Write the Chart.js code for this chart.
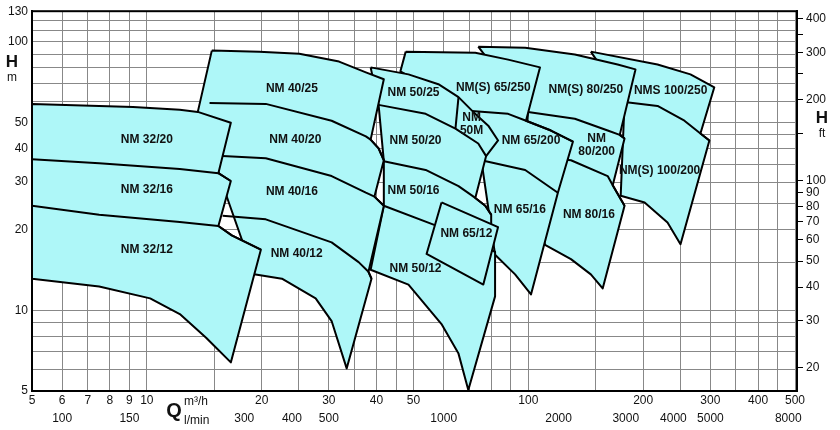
<!DOCTYPE html>
<html>
<head>
<meta charset="utf-8">
<script src="https://cdn.jsdelivr.net/npm/chart.js@4/dist/chart.umd.min.js"></script>
<style>
  html, body { margin: 0; padding: 0; background: #fff; }
  #wrap { width: 840px; height: 430px; position: relative; }
</style>
</head>
<body>
<div id="wrap"><canvas id="pumpChart"></canvas></div>
<script>
// ── Data: Q in m3/h, H in m ────────────────────────────────────────────────
var gridQ   = [5,6,7,8,9,10,15,20,25,30,35,40,45,50,60,70,80,90,100,150,200,250,300,350,400,450,500];
var labelQ  = [5,6,7,8,9,10,20,30,40,50,100,200,300,400,500];
var gridH   = [5,6,7,8,9,10,15,20,25,30,35,40,45,50,60,70,80,90,100,110,120,130];
var labelH  = [5,10,20,30,40,50,100,130];
var ticksFt = [20,30,40,50,60,70,80,90,100,150,200,250,300,350,400];
var labelFt = [20,30,40,50,60,70,80,90,100,200,300,400];
var ticksLmin = [100,150,300,400,500,1000,2000,3000,4000,5000,8000];

// NM 32
var nm32_20  = [[5,58.7],[7.5,57.7],[9.2,57.2],[12.2,55.8],[13.6,54.8],[16.6,49.9]];
var nm32_16  = [[5,36.5],[7.5,35.3],[12.2,33.6],[15.4,32.4],[16.6,30.3]];
var nm32_12  = [[5,24.5],[7.5,22.7],[12.2,21.3],[15.4,20.6],[16.7,19.0],[19.9,16.8]];
var nm32_min = [[5,13.1],[7.5,12.25],[10.2,11.07],[12.2,9.67],[14.3,7.89],[16.6,6.39]];
// NM 40
var nm40_25  = [[14.8,92.7],[19.7,91.9],[25.1,90.3],[31.9,84.4],[37.5,76.9],[41.8,72.5]];
var nm40_20  = [[14.6,59.2],[20.5,58.7],[30.5,50.8],[37.5,44.4],[38.6,43.2],[40.5,40.1],[41.8,36.2]];
var nm40_16  = [[15.8,37.5],[20.5,36.8],[30.5,31.6],[37.5,27.4],[39.5,26.5],[41.8,24.5]];
var nm40_12  = [[15.8,22.5],[20.5,21.8],[30.5,17.9],[35.9,15.1],[38.1,13.9],[38.8,13.1]];
var nm40_min = [[19.1,13.6],[22.6,13.1],[27.7,11.07],[30.5,9.11],[33.4,6.07]];
// NM 50
var nm50_25  = [[38.6,80.3],[48.5,75.6],[58.1,69.5],[65.6,62.2],[71.7,54.8],[78.5,48.7],[83.3,42.9]];
var nm50_20  = [[40.5,58.2],[53.8,53.9],[64.4,47.5],[73.9,41.8],[77.5,37.5]];
var nm50_16  = [[41.8,35.9],[53.8,33.3],[65.6,29.0],[72.6,26.2],[77.1,24.5],[79.9,22.7]];
var nm50_12  = [[41.8,24.5],[57.1,20.7],[69.6,18.5],[79.9,16.8],[81.8,16.5]];
var nm50_min = [[38.6,14.15],[48.5,12.46],[59.2,8.88],[65.6,6.89],[69.6,5.04]];
// NM 65
var nm65_250 = [[47.7,91.9],[72.6,91.1],[88.5,85.8],[107.3,80.3]];
var nm65_200 = [[69.6,55.3],[88.5,53.9],[98.6,50.8],[114.6,46.7],[130.9,42.5]];
var nm65_16  = [[75.3,36.2],[98.1,33.3],[119.5,27.4]];
var nm65_min = [[81.8,16.1],[92.3,13.6],[101.6,11.45]];
var nm65_12  = [[59.2,25.2],[83.3,20.4]];
var nm65_12min = [[54.1,16.2],[76.2,12.46]];
// NM 80
var nm80_250 = [[73.9,95.9],[98.1,95.1],[132.4,89.6],[171.4,82.3],[190.9,78.9]];
var nm80_200 = [[99.8,54.8],[132.4,51.7],[161.4,46.7],[173.6,45.0],[178.7,43.6]];
var nm80_16  = [[98.1,37.8],[129.3,36.2],[161.4,31.6],[166.4,29.2],[178.7,24.5]];
var nm80_min = [[110.6,17.5],[129.3,15.5],[145.8,13.6],[156.6,12.05]];
// NM 100
var nm100_250 = [[145.8,91.9],[218.1,82.3],[266.0,75.6],[307.2,67.7]];
var nm100_200 = [[178.7,59.7],[218.1,57.7],[256.5,50.8],[282.5,45.5],[298.2,42.9]];
var nm100_min = [[174.6,26.7],[201.7,25.2],[231.6,21.2],[250.5,17.6]];

// Labels: text, Q, H
var labelNames = ['NM 32/20','NM 32/16','NM 32/12','NM 40/25','NM 40/20','NM 40/16','NM 40/12',
  'NM 50/25','NM 50/20','NM 50/16','NM 50/12','NM(S) 65/250','NM|50M','NM 65/200','NM 65/16','NM 65/12',
  'NM(S) 80/250','NMS 100/250','NM|80/200','NM(S) 100/200','NM 80/16'];
var labelPosQ = [10,10,10,24,24.5,24,24.7, 50,50.6,50,50.6,80.9,71,101.6,95,68.8, 141.5,236,151,220.8,144.1];
var labelPosH = [43.3,28.1,16.8,66.6,43.3,27.6,16.2, 64.4,42.9,27.9,14.27,67.7,49.5,42.9,23.7,19.2, 66.1,65.5,41.1,33.0,22.7];

// ── Families (drawn right to left so left ones sit on top) ─────────────────
var families = [
  { curves: [nm100_250, nm100_200], cuts: [282.5], bottom: nm100_min, left: [[178.7,59.7]] },
  { curves: [nm80_250, nm80_200, nm80_16], cuts: [173.6,166.4], bottom: nm80_min, left: [[98.1,37.8],[99.8,54.8]] },
  { curves: [nm65_250, nm65_200, nm65_16], cuts: [98.6,119.5], bottom: nm65_min, left: [[75.3,36.2],[69.6,55.3],[46.2,77.6]] },
  { curves: [nm50_25, nm50_20, nm50_16, nm50_12], cuts: [77.5,72.6,79.9], bottom: nm50_min,
    right: [[81.8,11.26]], left: [[41.8,24.5],[41.8,35.9],[40.5,58.2]],
    extra: [[[65.6,62.2],[64.4,47.5]]] },
  { curves: [nm65_12], cuts: [], bottom: nm65_12min },
  { curves: [nm40_25, nm40_20, nm40_16, nm40_12], cuts: [38.6,39.5,38.1], bottom: nm40_min, left: [[16.4,25.2],[13.6,54.8]] },
  { curves: [nm32_20, nm32_16, nm32_12], cuts: [15.4,15.4], bottom: nm32_min }
];

function toXY(p) { return { x: p[0], y: p[1] }; }

function outline(f) {
  var pts = f.curves[0].slice();
  for (var i = 1; i < f.curves.length; i++) {
    var cut = f.cuts[i - 1];
    f.curves[i].forEach(function(p) { if (p[0] >= cut) pts.push(p); });
  }
  pts = pts.concat(f.right || []);
  pts = pts.concat(f.bottom.slice().reverse());
  pts = pts.concat(f.left || []);
  pts.push(f.curves[0][0]);
  return pts;
}

var FILL = '#aef7f8';
var datasets = [];
var order = 1000;
families.forEach(function(f) {
  datasets.push({
    data: outline(f).map(toXY),
    showLine: true, fill: 'shape', backgroundColor: FILL,
    borderColor: '#000', borderWidth: 2, borderJoinStyle: 'round',
    pointRadius: 0, tension: 0,
    order: order--
  });
  f.curves.slice(1).forEach(function(c) {
    datasets.push({
      data: c.map(toXY), showLine: true, fill: false,
      borderColor: '#000', borderWidth: 2, borderJoinStyle: 'round',
      pointRadius: 0, tension: 0,
      order: order--
    });
  });
  (f.extra || []).forEach(function(c) {
    datasets.push({
      data: c.map(toXY), showLine: true, fill: false,
      borderColor: '#000', borderWidth: 2, pointRadius: 0, order: order--
    });
  });
});

var FONT = '"Liberation Sans", Arial, Helvetica, sans-serif';

var textPlugin = {
  id: 'pumpText',
  afterDatasetsDraw: function(chart) {
    var c = chart.ctx, xs = chart.scales.x, ys = chart.scales.y;
    c.save();
    c.fillStyle = '#111';
    c.textAlign = 'center';
    c.textBaseline = 'middle';
    c.font = 'bold 12px ' + FONT;
    labelNames.forEach(function(name, i) {
      var px = xs.getPixelForValue(labelPosQ[i]);
      var py = ys.getPixelForValue(labelPosH[i]);
      var lines = name.split('|');
      lines.forEach(function(l, k) {
        c.fillText(l, px, py + (k - (lines.length - 1) / 2) * 13);
      });
    });
    c.restore();
  },
  afterDraw: function(chart) {
    var c = chart.ctx, a = chart.chartArea;
    c.save();
    c.strokeStyle = '#000';
    c.lineWidth = 2;
    c.strokeRect(a.left, a.top, a.right - a.left, a.bottom - a.top);
    c.fillStyle = '#111';
    c.textBaseline = 'middle';
    c.textAlign = 'center';
    c.font = 'bold 17px ' + FONT;
    c.fillText('H', 12, 62);
    c.fillText('H', 822, 118);
    c.font = '12px ' + FONT;
    c.fillText('m', 12, 78);
    c.fillText('ft', 822, 134);
    c.font = 'bold 20px ' + FONT;
    c.fillText('Q', 174, 411);
    c.textAlign = 'left';
    c.font = '12px ' + FONT;
    c.fillText('m³/h', 184, 402);
    c.fillText('l/min', 184, 421);
    c.restore();
  }
};

function setTicks(list) {
  return function(scale) { scale.ticks = list.map(function(v) { return { value: v }; }); };
}

new Chart(document.getElementById('pumpChart'), {
  type: 'scatter',
  data: { datasets: datasets },
  plugins: [textPlugin],
  options: {
    responsive: true,
    maintainAspectRatio: false,
    animation: false,
    layout: { padding: { top: 4, left: 0, right: 0, bottom: 0 } },
    plugins: { legend: { display: false }, tooltip: { enabled: false } },
    scales: {
      x: {
        type: 'logarithmic', position: 'bottom', min: 5, max: 506,
        afterBuildTicks: setTicks(gridQ),
        afterFit: function(s) { s.height = 20; },
        ticks: {
          autoSkip: false, maxRotation: 0, padding: 2, color: '#111',
          font: { family: FONT, size: 12 },
          callback: function(v) { return labelQ.indexOf(v) >= 0 ? String(v) : ''; }
        },
        grid: { color: '#888', lineWidth: 1, drawTicks: false },
        border: { color: '#000', width: 2 }
      },
      xl: {
        type: 'logarithmic', position: 'bottom', min: 5 * 1000 / 60, max: 506 * 1000 / 60,
        afterBuildTicks: setTicks(ticksLmin),
        afterFit: function(s) { s.height = 19; },
        ticks: {
          autoSkip: false, maxRotation: 0, padding: 0, color: '#111',
          font: { family: FONT, size: 12 },
          callback: function(v) { return String(v); }
        },
        grid: { display: false, drawTicks: false },
        border: { display: false }
      },
      y: {
        type: 'logarithmic', position: 'left', min: 5, max: 130,
        afterBuildTicks: setTicks(gridH),
        afterFit: function(s) { s.width = 32; },
        ticks: {
          autoSkip: false, padding: 4, color: '#111',
          font: { family: FONT, size: 12 },
          callback: function(v) { return labelH.indexOf(v) >= 0 ? String(v) : ''; }
        },
        grid: { color: '#888', lineWidth: 1, drawTicks: false },
        border: { color: '#000', width: 2 }
      },
      yft: {
        type: 'logarithmic', position: 'right', min: 5 * 3.2808, max: 130 * 3.2808,
        afterBuildTicks: setTicks(ticksFt),
        afterFit: function(s) { s.width = 43; },
        ticks: {
          autoSkip: false, padding: 3, color: '#111',
          font: { family: FONT, size: 12 },
          callback: function(v) { return labelFt.indexOf(v) >= 0 ? String(v) : ''; }
        },
        grid: { drawOnChartArea: false, color: '#000', tickLength: 6 },
        border: { color: '#000', width: 2 }
      }
    }
  }
});
</script>
</body>
</html>
